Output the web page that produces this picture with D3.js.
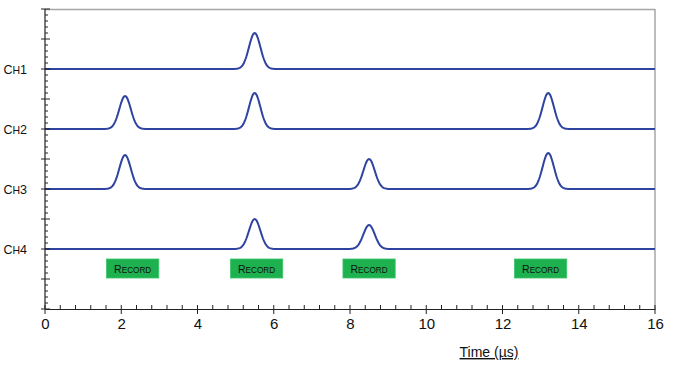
<!DOCTYPE html>
<html><head><meta charset="utf-8">
<script src="https://cdn.jsdelivr.net/npm/d3@7"></script>
<style>body{margin:0;background:#fff}svg{display:block;font-family:Arial,"Liberation Sans",sans-serif}</style>
</head><body><svg id="c" width="676" height="365"></svg>
<script>
const channels = ["CH1","CH2","CH3","CH4"];
const baselines = [8, 6, 4, 2];
const pulseCenters = [[5.5],[2.1,5.5,13.2],[2.1,8.5,13.2],[5.5,8.5]];
const pulseHeights = [[1.2],[1.1,1.2,1.2],[1.13,1.0,1.2],[1.0,0.8]];
const recordCenters = [2.3, 5.55, 8.5, 13.0];
const xTicks = [0,2,4,6,8,10,12,14,16];

const svg = d3.select("#c");
const m = {l:45, r:655, t:9, b:309};
const x = d3.scaleLinear().domain([0,16]).range([m.l,m.r]);
const y = d3.scaleLinear().domain([0,10]).range([m.b,m.t]);
const sigma = 0.15;

// frame
svg.append("line").attr("x1",m.l).attr("x2",m.r).attr("y1",m.t+0.5).attr("y2",m.t+0.5).attr("stroke","#a6a6a6").attr("stroke-width",1.5);
svg.append("line").attr("x1",m.r).attr("x2",m.r).attr("y1",m.t).attr("y2",m.b).attr("stroke","#a6a6a6").attr("stroke-width",1.5);

// traces
const samples = d3.range(0, 16.0001, 0.02);
const line = d3.line().x(d=>x(d[0])).y(d=>y(d[1]));
channels.forEach((ch,i)=>{
  const pts = samples.map(t=>{
    let v = baselines[i];
    pulseCenters[i].forEach((c,k)=>{ v += pulseHeights[i][k]*Math.exp(-((t-c)**2)/(2*sigma*sigma)); });
    return [t,v];
  });
  svg.append("path").attr("d",line(pts)).attr("fill","none").attr("stroke","#2f43a0").attr("stroke-width",2);
  const tx = svg.append("text").attr("x",27).attr("y",y(baselines[i])+4.5).attr("text-anchor","end").attr("font-size",12.5).attr("fill","#111");
  tx.append("tspan").text(ch[0]);
  tx.append("tspan").attr("font-size",10.5).text(ch[1]);
  tx.append("tspan").text(ch.slice(2));
});

// record boxes
recordCenters.forEach(c=>{
  const w = x(c+0.685)-x(c-0.685);
  svg.append("rect").attr("x",x(c)-w/2).attr("y",259).attr("width",w).attr("height",19).attr("fill","#1db24f").attr("stroke","#3cc46a").attr("stroke-width",0.8);
  const t = svg.append("text").attr("x",x(c)).attr("y",272.5).attr("text-anchor","middle").attr("font-size",10.5).attr("fill","#111");
  t.append("tspan").text("R");
  t.append("tspan").attr("font-size",8.2).text("ECORD");
});

// y axis
const yAxis = svg.append("g");
yAxis.append("line").attr("x1",m.l).attr("x2",m.l).attr("y1",m.t).attr("y2",m.b).attr("stroke","#222").attr("stroke-width",1.2);
d3.range(0,10.0001,0.2).forEach(v=>{
  const major = Math.abs(v-Math.round(v))<1e-6;
  yAxis.append("line").attr("x1",major?m.l-4:m.l).attr("x2",major?m.l+5:m.l+3).attr("y1",y(v)).attr("y2",y(v)).attr("stroke","#222").attr("stroke-width",1);
});

// x axis
const gx = svg.append("g").attr("transform",`translate(0,${m.b})`)
  .call(d3.axisBottom(x).tickValues(xTicks).tickSize(0).tickPadding(9).tickFormat(d3.format("d")));
gx.select(".domain").attr("stroke","#222").attr("stroke-width",1.2);
gx.selectAll(".tick text").attr("font-size",15).attr("fill","#111").attr("font-family","Arial,'Liberation Sans',sans-serif");
d3.range(0,16.0001,0.4).forEach(v=>{
  const major = Math.abs(v/2-Math.round(v/2))<1e-6;
  svg.append("line").attr("x1",x(v)).attr("x2",x(v)).attr("y1",m.b-4).attr("y2",major?m.b+5:m.b).attr("stroke","#222").attr("stroke-width",1);
});
svg.append("text").attr("x",489).attr("y",357).attr("text-anchor","middle").attr("font-size",14).attr("fill","#111").attr("text-decoration","underline").text("Time (µs)");
</script></body></html>
